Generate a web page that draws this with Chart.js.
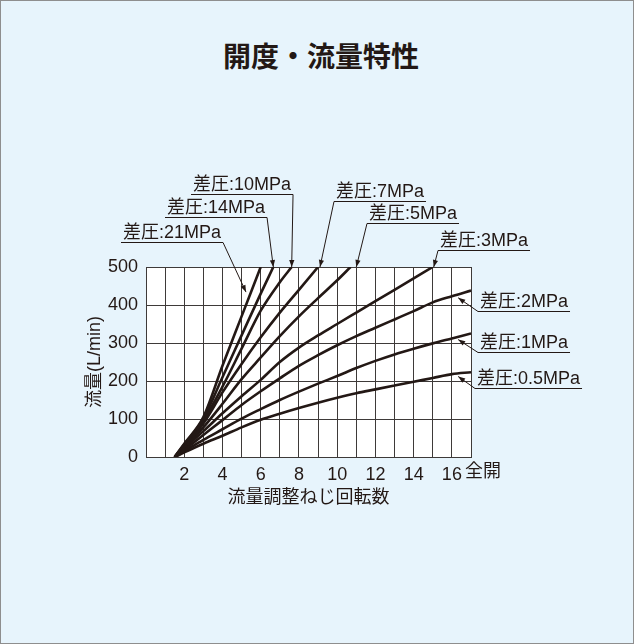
<!DOCTYPE html>
<html>
<head>
<meta charset="utf-8">
<script src="https://cdn.jsdelivr.net/npm/chart.js@4/dist/chart.umd.min.js"></script>
<style>
  html, body { margin: 0; padding: 0; }
  body { width: 634px; height: 644px; background: #e7f4fc; position: relative; overflow: hidden; }
  #frame { position: absolute; left: 0; top: 0; width: 634px; height: 644px; box-sizing: border-box; border: 1px solid #8e8e8e; pointer-events: none; }
  #title { position: absolute; left: 0; top: 37px; width: 642px; text-align: center; font: 700 28px 'Noto Sans CJK JP', sans-serif; color: #231815; line-height: 36px; }
  canvas { position: absolute; left: 0; top: 0; }
</style>
</head>
<body>
<div id="title">開度・流量特性</div>
<canvas id="flowChart" width="634" height="644"></canvas>
<div id="frame"></div>
<script>
// turns of the adjusting screw vs flow (L/min), one pair per differential pressure
const x21 = [1.5, 2, 3, 4, 5, 6];
const y21 = [0, 35, 105, 240, 370, 500];
const x14 = [1.5, 2, 3, 4, 5, 6, 6.66];
const y14 = [0, 33, 100, 210, 320, 430, 500];
const x10 = [1.5, 2, 3, 4, 5, 6, 7, 7.62];
const y10 = [0, 31, 95, 185, 285, 385, 460, 500];
const x7 = [1.5, 2, 3, 4, 5, 6, 7, 8, 9];
const y7 = [0, 28, 88, 170, 245, 315, 380, 440, 500];
const x5 = [1.5, 2, 3, 4, 5, 6, 7, 8, 9, 10, 10.7];
const y5 = [0, 25, 78, 140, 205, 262, 318, 370, 418, 465, 500];
const x3 = [1.5, 2, 3, 4, 5, 6, 7, 8, 9, 10, 11, 12, 13, 14, 15];
const y3 = [0, 22, 68, 115, 160, 203, 250, 288, 320, 350, 380, 410, 440, 470, 500];
const xLow = [1.5, 2, 3, 4, 5, 6, 7, 8, 9, 10, 11, 12, 13, 14, 15, 16, 17];
const y2 = [0, 18, 58, 97, 137, 173, 207, 240, 268, 294, 318, 340, 362, 384, 407, 423, 438];
const y1 = [0, 15, 45, 73, 101, 126, 150, 172, 193, 213, 234, 253, 270, 285, 299, 312, 325];
const y05 = [0, 12, 35, 56, 78, 98, 114, 129, 143, 156, 168, 178, 188, 198, 208, 218, 223];

const xTickLabels = [2, 4, 6, 8, 10, 12, 14, 16];
const fullOpenLabel = '全開';
const xTitle = '流量調整ねじ回転数';
const yTitle = '流量(L/min)';

// label text, where its underline sits (px), which end the leader leaves from, and the arrow tip in data units
const callouts = [
  { text: '差圧:21MPa', left: 123, line: 242, from: 'right', tip: [5.23, 434] },
  { text: '差圧:14MPa', left: 167, line: 217, from: 'right', tip: [6.66, 500] },
  { text: '差圧:10MPa', left: 193, line: 194, from: 'right', tip: [7.62, 500] },
  { text: '差圧:7MPa', left: 336, line: 201, from: 'left', tip: [9.1, 500] },
  { text: '差圧:5MPa', left: 369, line: 223, from: 'left', tip: [11.0, 500] },
  { text: '差圧:3MPa', left: 440, line: 250, from: 'left', tip: [15.05, 500] },
  { text: '差圧:2MPa', left: 480, line: 311, from: 'left', tip: [16.33, 419] },
  { text: '差圧:1MPa', left: 480, line: 352, from: 'left', tip: [16.33, 309] },
  { text: '差圧:0.5MPa', left: 477, line: 388, from: 'left', tip: [16.33, 212] }
];

const INK = '#231815';
const GRID = '#3e3a39';
const FONT = "'Liberation Sans', 'Noto Sans CJK JP', sans-serif";

function toPoints(xs, ys) {
    return xs.map((x, i) => ({ x: x, y: ys[i] }));
}

function curve(label, xs, ys) {
    return {
        label: label,
        data: toPoints(xs, ys),
        borderColor: INK,
        borderWidth: 2.6,
        pointRadius: 0,
        fill: false,
        cubicInterpolationMode: 'monotone'
    };
}

const plotBackground = {
    id: 'plotBackground',
    beforeDraw(chart) {
        const { ctx, chartArea: a } = chart;
        ctx.save();
        ctx.fillStyle = '#ffffff';
        ctx.fillRect(a.left, a.top, a.right - a.left, a.bottom - a.top);
        ctx.restore();
    }
};

function arrow(ctx, x0, y0, x1, y1) {
    ctx.beginPath();
    ctx.moveTo(x0, y0);
    ctx.lineTo(x1, y1);
    ctx.stroke();
    const ang = Math.atan2(y1 - y0, x1 - x0);
    const len = 7, half = 2.6;
    ctx.beginPath();
    ctx.moveTo(x1, y1);
    ctx.lineTo(x1 - len * Math.cos(ang) + half * Math.sin(ang), y1 - len * Math.sin(ang) - half * Math.cos(ang));
    ctx.lineTo(x1 - len * Math.cos(ang) - half * Math.sin(ang), y1 - len * Math.sin(ang) + half * Math.cos(ang));
    ctx.closePath();
    ctx.fill();
}

const calloutPlugin = {
    id: 'callouts',
    afterDraw(chart) {
        const { ctx, scales: { x, y }, chartArea: a } = chart;
        ctx.save();
        ctx.font = '18px ' + FONT;
        ctx.fillStyle = INK;
        ctx.strokeStyle = INK;
        ctx.lineWidth = 1;
        ctx.textBaseline = 'alphabetic';
        callouts.forEach(c => {
            const w = ctx.measureText(c.text).width;
            ctx.textAlign = 'left';
            ctx.fillText(c.text, c.left, c.line - 4);
            const l0 = c.left - 2, l1 = c.left + w + 2;
            ctx.beginPath();
            ctx.moveTo(l0, c.line + 0.5);
            ctx.lineTo(l1, c.line + 0.5);
            ctx.stroke();
            const sx = c.from === 'left' ? l0 : l1;
            arrow(ctx, sx, c.line + 0.5, x.getPixelForValue(c.tip[0]), y.getPixelForValue(c.tip[1]));
        });
        // "fully open" mark beside the last tick
        ctx.textAlign = 'left';
        ctx.textBaseline = 'middle';
        ctx.fillText(fullOpenLabel, a.right - 6, a.bottom + 15);
        ctx.restore();
    }
};

const ctx = document.getElementById('flowChart').getContext('2d');
const flowChart = new Chart(ctx, {
    type: 'line',
    data: {
        datasets: [
            curve('差圧:21MPa', x21, y21),
            curve('差圧:14MPa', x14, y14),
            curve('差圧:10MPa', x10, y10),
            curve('差圧:7MPa', x7, y7),
            curve('差圧:5MPa', x5, y5),
            curve('差圧:3MPa', x3, y3),
            curve('差圧:2MPa', xLow, y2),
            curve('差圧:1MPa', xLow, y1),
            curve('差圧:0.5MPa', xLow, y05)
        ]
    },
    options: {
        responsive: false,
        animation: false,
        devicePixelRatio: 1,
        layout: { padding: { left: 84, top: 267, right: 163, bottom: 135 } },
        plugins: {
            legend: { display: false },
            tooltip: { enabled: false }
        },
        scales: {
            x: {
                type: 'linear',
                min: 0,
                max: 17,
                grid: { color: GRID, lineWidth: 1, drawTicks: false },
                border: { color: GRID, width: 1 },
                ticks: {
                    stepSize: 1,
                    maxTicksLimit: 100,
                    autoSkip: false,
                    maxRotation: 0,
                    padding: 7,
                    color: INK,
                    font: { family: FONT, size: 18 },
                    callback: v => xTickLabels.includes(v) ? String(v) : ''
                },
                title: { display: true, text: xTitle, color: INK, font: { family: FONT, size: 18 }, padding: 0 },
                afterFit: s => { s.height = 52; s.paddingLeft = 0; s.paddingRight = 0; }
            },
            y: {
                min: 0,
                max: 500,
                grid: { color: GRID, lineWidth: 1, drawTicks: false },
                border: { color: GRID, width: 1 },
                ticks: {
                    stepSize: 50,
                    maxTicksLimit: 100,
                    padding: 8,
                    color: INK,
                    font: { family: FONT, size: 18 },
                    callback: v => v % 100 === 0 ? String(v) : ''
                },
                title: { display: true, text: yTitle, color: INK, font: { family: FONT, size: 18 }, padding: 0 },
                afterFit: s => { s.width = 62; s.paddingTop = 0; s.paddingBottom = 0; }
            }
        }
    },
    plugins: [plotBackground, calloutPlugin]
});
</script>
</body>
</html>
